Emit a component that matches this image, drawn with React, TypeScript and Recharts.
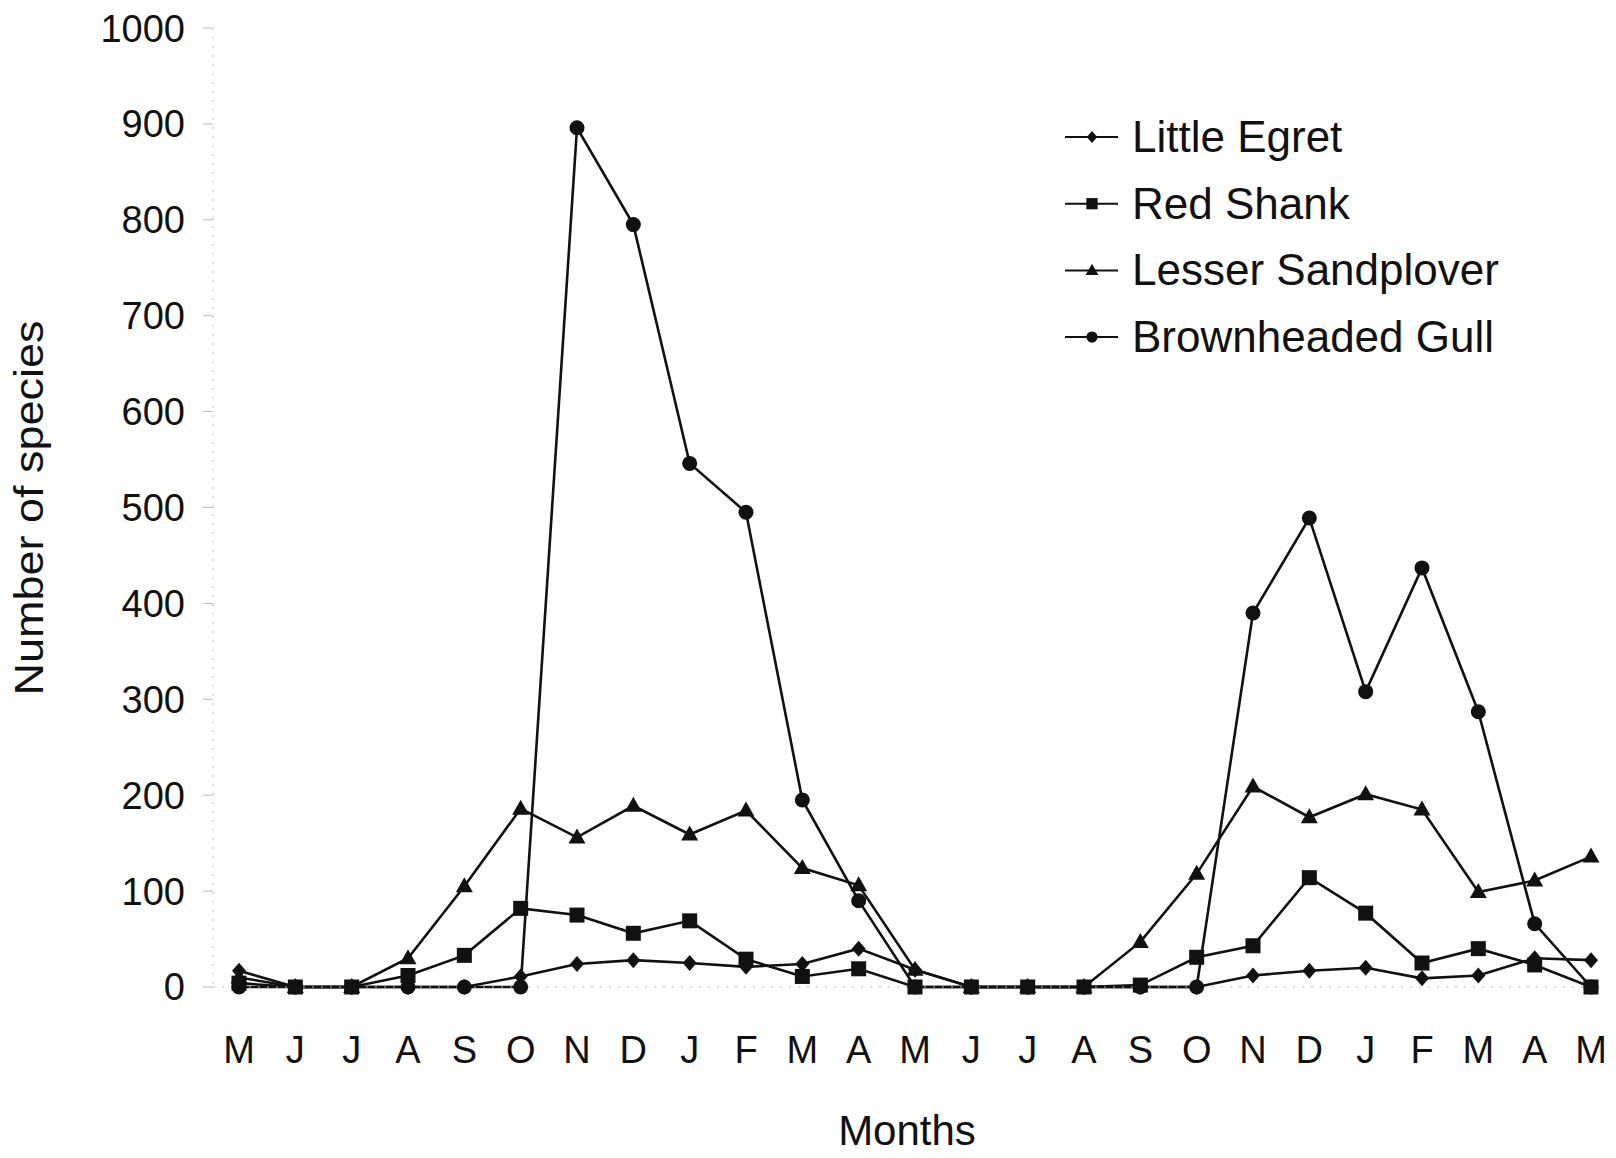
import React from "react";
import { LineChart, Line, XAxis, YAxis, Legend } from "recharts";

const months = ["M", "J", "J", "A", "S", "O", "N", "D", "J", "F", "M", "A", "M", "J", "J", "A", "S", "O", "N", "D", "J", "F", "M", "A", "M"];
const littleEgret = [17, 0, 0, 0, 0, 11, 24, 28, 25, 21, 24, 40, 18, 0, 0, 0, 0, 0, 12, 17, 20, 9, 12, 30, 28];
const redShank = [4, 0, 0, 12, 33, 82, 75, 56, 69, 29, 11, 19, 0, 0, 0, 0, 2, 31, 43, 114, 77, 25, 40, 23, 0];
const lesserSandplover = [10, 0, 0, 30, 105, 186, 156, 189, 159, 184, 124, 106, 18, 0, 0, 0, 47, 118, 209, 177, 201, 185, 99, 111, 136];
const brownheadedGull = [0, 0, 0, 0, 0, 0, 896, 795, 546, 495, 195, 90, 0, 0, 0, 0, 0, 0, 390, 489, 308, 437, 287, 66, 0];
const yTicks = [0, 100, 200, 300, 400, 500, 600, 700, 800, 900, 1000];

const series = [
    { key: "egret", name: "Little Egret", shape: "diamond" },
    { key: "shank", name: "Red Shank", shape: "square" },
    { key: "plover", name: "Lesser Sandplover", shape: "triangle" },
    { key: "gull", name: "Brownheaded Gull", shape: "circle" },
];

const data = months.map((m, i) => ({
    idx: i,
    egret: littleEgret[i],
    shank: redShank[i],
    plover: lesserSandplover[i],
    gull: brownheadedGull[i],
}));

const FONT = "'Liberation Sans', Arial, Helvetica, sans-serif";
const INK = "#111";

function Marker({ shape, cx, cy, s = 1 }: { shape: string; cx: number; cy: number; s?: number }) {
    if (shape === "diamond") {
        const w = 7 * s, h = 8 * s;
        return <polygon points={`${cx},${cy - h} ${cx + w},${cy} ${cx},${cy + h} ${cx - w},${cy}`} fill={INK} />;
    }
    if (shape === "square") {
        const h = 7.5 * s;
        return <rect x={cx - h} y={cy - h} width={h * 2} height={h * 2} fill={INK} />;
    }
    if (shape === "triangle") {
        return <polygon points={`${cx},${cy - 9 * s} ${cx + 8.5 * s},${cy + 6 * s} ${cx - 8.5 * s},${cy + 6 * s}`} fill={INK} />;
    }
    return <circle cx={cx} cy={cy} r={7.5 * s} fill={INK} />;
}

const makeDot = (shape: string) => (props: any) => {
    const { cx, cy, index } = props;
    if (cx == null || cy == null) return <g key={`d-${shape}-${index}`} />;
    return (
        <g key={`d-${shape}-${index}`}>
            <Marker shape={shape} cx={cx} cy={cy} />
        </g>
    );
};

const renderLegend = () => (
    <svg width={540} height={280}>
        {series.map((s, i) => {
            const y = 39 + i * 66.7;
            return (
                <g key={s.key}>
                    <line x1={17} x2={70} y1={y} y2={y} stroke={INK} strokeWidth={2} />
                    <Marker shape={s.shape} cx={44} cy={y} s={0.75} />
                    <text x={84} y={y + 15} fontFamily={FONT} fontSize={44} fill={INK}>
                        {s.name}
                    </text>
                </g>
            );
        })}
    </svg>
);

export default function App() {
    return (
        <LineChart width={1600} height={1150} data={data} margin={{ top: 20, right: 9, bottom: 0, left: 0 }}>
            <XAxis
                dataKey="idx"
                type="category"
                scale="point"
                padding={{ left: 26, right: 8 }}
                tickFormatter={(i: number) => months[i]}
                interval={0}
                height={171}
                axisLine={{ stroke: "#bbb", strokeDasharray: "2 7" }}
                tickLine={false}
                tickSize={0}
                tickMargin={49}
                tick={{ fontSize: 38, fill: INK, fontFamily: FONT }}
                label={{
                    content: () => (
                        <text x={899} y={1137} textAnchor="middle" fontFamily={FONT} fontSize={42} fill={INK}>
                            Months
                        </text>
                    ),
                }}
            />
            <YAxis
                width={205}
                domain={[0, 1000]}
                ticks={yTicks}
                interval={0}
                axisLine={{ stroke: "#bbb", strokeDasharray: "2 7" }}
                tickLine={{ stroke: "#bbb" }}
                tickSize={10}
                tickMargin={18}
                tick={{ fontSize: 38, fill: INK, fontFamily: FONT }}
                label={{
                    content: () => (
                        <text
                            transform="translate(35, 500) rotate(-90)"
                            textAnchor="middle"
                            fontFamily={FONT}
                            fontSize={40}
                            fill={INK}
                            textLength={375}
                            lengthAdjust="spacingAndGlyphs"
                        >
                            Number of species
                        </text>
                    ),
                }}
            />
            <Legend
                layout="vertical"
                align="center"
                verticalAlign="middle"
                content={renderLegend}
                wrapperStyle={{ left: 1040, top: 90, width: 540 }}
            />
            {series.map(s => (
                <Line
                    key={s.key}
                    type="linear"
                    dataKey={s.key}
                    name={s.name}
                    stroke={INK}
                    strokeWidth={2.6}
                    dot={makeDot(s.shape)}
                    activeDot={false}
                    isAnimationActive={false}
                />
            ))}
        </LineChart>
    );
}
